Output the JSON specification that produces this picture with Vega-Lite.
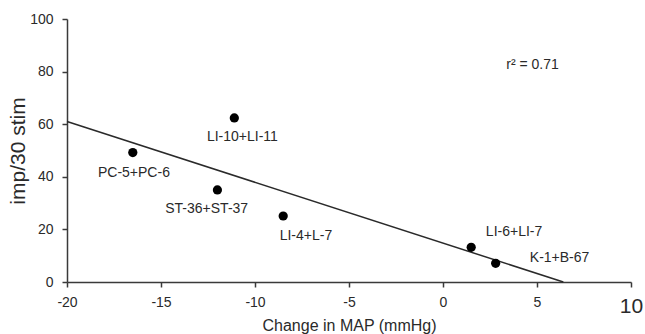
{
  "$schema": "https://vega.github.io/schema/vega-lite/v6.json",
  "width": 564,
  "height": 263,
  "autosize": {"type": "none"},
  "padding": {"left": 67, "top": 19, "right": 14, "bottom": 52},
  "background": "white",
  "config": {
    "font": "Liberation Sans",
    "view": {"stroke": null},
    "axis": {
      "grid": false,
      "domainColor": "#3a3a3a",
      "domainWidth": 1.5,
      "tickColor": "#3a3a3a",
      "tickWidth": 1.5,
      "tickSize": 5,
      "labelColor": "#2a2a2a",
      "titleColor": "#2a2a2a",
      "labelFontSize": 14,
      "titleFontWeight": "normal"
    }
  },
  "datasets": {
    "fit": [
      {"map": -20, "imp": 61},
      {"map": 6.4, "imp": 0}
    ],
    "pts": [
      {"map": -16.5, "imp": 49.2, "name": "PC-5+PC-6", "lx": -16.44, "ly": 41.3},
      {"map": -11.1, "imp": 62.4, "name": "LI-10+LI-11", "lx": -10.67, "ly": 55.0},
      {"map": -12.0, "imp": 35.0, "name": "ST-36+ST-37", "lx": -12.57, "ly": 27.6},
      {"map": -8.5, "imp": 25.1, "name": "LI-4+L-7", "lx": -7.29, "ly": 17.5},
      {"map": 1.5, "imp": 13.2, "name": "LI-6+LI-7", "lx": 3.78, "ly": 19.0},
      {"map": 2.8, "imp": 7.1, "name": "K-1+B-67", "lx": 6.2, "ly": 9.1}
    ],
    "stat": [
      {"map": 4.76, "imp": 82.6, "txt": "r² = 0.71"}
    ]
  },
  "layer": [
    {
      "data": {"name": "fit"},
      "mark": {"type": "line", "color": "#2a2a2a", "strokeWidth": 1.5},
      "encoding": {
        "x": {
          "field": "map", "type": "quantitative",
          "scale": {"domain": [-20, 10], "nice": false, "zero": false},
          "axis": {
            "values": [-20, -15, -10, -5, 0, 5, 10],
            "labelExpr": "'' + datum.value",
            "title": "Change in MAP (mmHg)",
            "titleFontSize": 16,
            "titleY": 35,
            "titleBaseline": "top",
            "labelPadding": 8,
            "labelFlush": false,
            "labelFontSize": {"condition": {"test": "datum.value == 10", "value": 21}, "value": 14}
          }
        },
        "y": {
          "field": "imp", "type": "quantitative",
          "scale": {"domain": [0, 100], "nice": false},
          "axis": {
            "values": [0, 20, 40, 60, 80, 100],
            "title": "imp/30 stim",
            "titleFontSize": 21,
            "titleX": -39,
            "titleBaseline": "bottom",
            "labelPadding": 9
          }
        }
      }
    },
    {
      "data": {"name": "pts"},
      "mark": {"type": "circle", "color": "black", "opacity": 1, "size": 85},
      "encoding": {
        "x": {"field": "map", "type": "quantitative"},
        "y": {"field": "imp", "type": "quantitative"}
      }
    },
    {
      "data": {"name": "pts"},
      "mark": {"type": "text", "fontSize": 14, "color": "#2a2a2a", "align": "center", "baseline": "middle"},
      "encoding": {
        "x": {"field": "lx", "type": "quantitative"},
        "y": {"field": "ly", "type": "quantitative"},
        "text": {"field": "name"}
      }
    },
    {
      "data": {"name": "stat"},
      "mark": {"type": "text", "fontSize": 14, "color": "#2a2a2a", "align": "center", "baseline": "middle"},
      "encoding": {
        "x": {"field": "map", "type": "quantitative"},
        "y": {"field": "imp", "type": "quantitative"},
        "text": {"field": "txt"}
      }
    }
  ]
}
